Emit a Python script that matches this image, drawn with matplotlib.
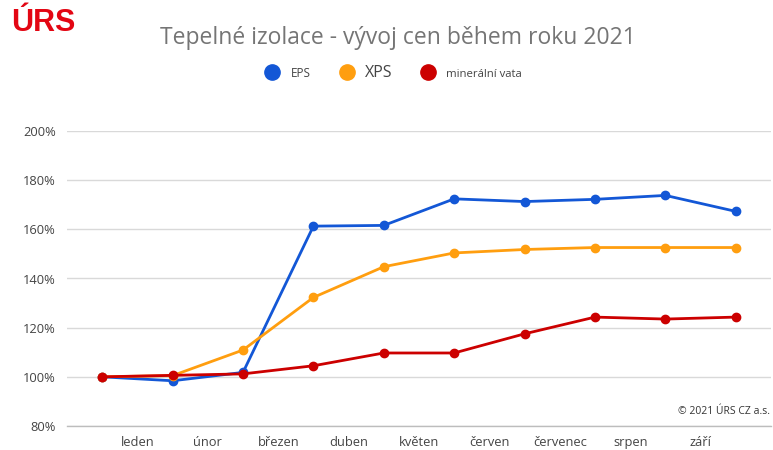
import matplotlib
matplotlib.use("Agg")
import matplotlib.pyplot as plt
from matplotlib.lines import Line2D

months = ["leden", "únor", "březen", "duben", "květen", "červen", "červenec", "srpen", "září"]
eps = [100, 98.4, 101.8, 161.3, 161.6, 172.4, 171.3, 172.2, 173.8, 167.3]
xps = [100, 100.5, 110.9, 132.3, 144.8, 150.4, 151.8, 152.6, 152.6, 152.6]
mineral = [100, 100.6, 101.2, 104.5, 109.7, 109.7, 117.5, 124.3, 123.5, 124.3]
yticks = [80, 100, 120, 140, 160, 180, 200]

c_eps = "#1357d6"
c_xps = "#ff9e0f"
c_min = "#cc0000"

plt.rcParams['font.family'] = ['Open Sans', 'DejaVu Sans']

fig = plt.figure(figsize=(7.73, 4.5), dpi=100)
ax = fig.add_axes([67/773, 1 - 426/450, (771 - 67)/773, (426 - 131)/450])

x = list(range(len(eps)))
for vals, col in [(eps, c_eps), (xps, c_xps), (mineral, c_min)]:
    ax.plot(x, vals, color=col, lw=2, marker='o', ms=6, zorder=3)

ax.set_xlim(-0.5, len(eps) - 0.5)
ax.set_ylim(80, 200)
ax.set_yticks(yticks)
ax.set_yticklabels([f"{v}%" for v in yticks])
ax.set_xticks([i + 0.5 for i in range(len(months))])
ax.set_xticklabels(months)
ax.tick_params(axis='both', length=0, labelsize=9.3, colors='#444444')
ax.tick_params(axis='y', pad=8)
ax.tick_params(axis='x', pad=7)
ax.grid(axis='y', color='#d9d9d9', lw=1)
ax.set_axisbelow(True)
for s in ['top', 'right', 'left']:
    ax.spines[s].set_visible(False)
ax.spines['bottom'].set_color('#bdbdbd')
ax.spines['bottom'].set_linewidth(1)

fig.text(398/773, 1 - 38/450, "Tepelné izolace - vývoj cen během roku 2021",
         ha='center', va='center', fontsize=16.5, color='#757575')

# legend
handles = [Line2D([], [], color=c, marker='o', ls='none', ms=11) for c in (c_eps, c_xps, c_min)]
leg = fig.legend(handles, ["EPS", "XPS", "minerální vata"], loc='center',
                 bbox_to_anchor=(393/773, 1 - 73/450), ncol=3, frameon=False,
                 handletextpad=0.7, columnspacing=2.0, handlelength=1.2)
sizes = [8.5, 11.5, 8.2]
for t, s in zip(leg.get_texts(), sizes):
    t.set_fontsize(s)
    t.set_color('#444444')

fig.text(11/773, 1 - 23/450, "ÚRS", ha='left', va='center', fontsize=22,
         fontweight='bold', color='#e30613',
         family=['Liberation Sans', 'DejaVu Sans'])
fig.text(770/773, 1 - 412/450, "© 2021 ÚRS CZ a.s.", ha='right', va='center',
         fontsize=7.5, color='#333333')

fig.savefig("out.png", dpi=100, facecolor='white')
